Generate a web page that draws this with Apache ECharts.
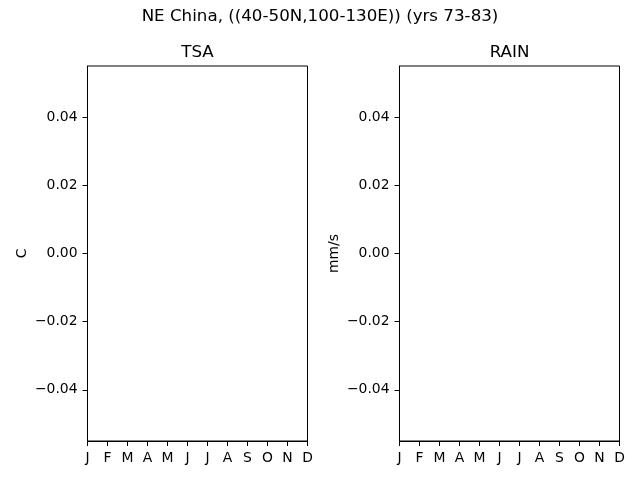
<!DOCTYPE html>
<html><head><meta charset="utf-8">
<script src="https://cdn.jsdelivr.net/npm/echarts@6/dist/echarts.min.js"></script>
<style>html,body{margin:0;padding:0;background:#fff}#c{width:640px;height:480px}</style>
</head><body><div id="c"></div>
<script>
const months = ['J','F','M','A','M','J','J','A','S','O','N','D'];
const monthPos = [0,1,2,3,4,5,6,7,8,9,10,11];
const yTicks = [-0.04,-0.02,0,0.02,0.04];
const tsaValues = [];
const rainValues = [];
const suptitle = 'NE China, ((40-50N,100-130E)) (yrs 73-83)';
const panelTitles = ['TSA','RAIN'];
const units = ['C','mm/s'];

const font = 'DejaVu Sans';
const fmtY = v => { const s = v.toFixed(2); return s.replace('-', '\u2212'); };
function xAx(i){
  return {type:'value', gridIndex:i, min:0, max:11,
    axisLine:{show:true,onZero:false,lineStyle:{color:'#000',width:1}},
    axisTick:{show:true,length:5,customValues:monthPos,lineStyle:{color:'#000'}},
    axisLabel:{customValues:monthPos,margin:10,color:'#000',fontFamily:font,fontSize:13.9,
      formatter:v=>months[Math.round(v)]},
    splitLine:{show:false}};
}
function yAx(i){
  return {type:'value', gridIndex:i, min:-0.055, max:0.055,
    name:units[i], nameLocation:'middle', nameRotate:90, nameGap:58,
    nameTextStyle:{color:'#000',fontFamily:font,fontSize:13.9},
    axisLine:{show:true,onZero:false,lineStyle:{color:'#000',width:1}},
    axisTick:{show:true,length:5,customValues:yTicks,lineStyle:{color:'#000'}},
    axisLabel:{customValues:yTicks,margin:10,color:'#000',fontFamily:font,fontSize:13.9,formatter:fmtY},
    splitLine:{show:false}};
}
const tStyle = {fontFamily:font,fontSize:16.7,fontWeight:'normal',color:'#000'};
const chart = echarts.init(document.getElementById('c'));
chart.setOption({
  animation:false,
  backgroundColor:'#fff',
  title:[
    {text:suptitle,left:320,top:8,padding:0,textAlign:'center',textStyle:tStyle},
    {text:panelTitles[0],left:197.5,top:44,padding:0,textAlign:'center',textStyle:tStyle},
    {text:panelTitles[1],left:509.5,top:44,padding:0,textAlign:'center',textStyle:tStyle}
  ],
  grid:[
    {left:87.5,top:66,width:220,height:375,show:true,borderColor:'#000',borderWidth:1,backgroundColor:'transparent'},
    {left:399.5,top:66,width:220,height:375,show:true,borderColor:'#000',borderWidth:1,backgroundColor:'transparent'}
  ],
  xAxis:[xAx(0),xAx(1)],
  yAxis:[yAx(0),yAx(1)],
  series:[
    {type:'line',xAxisIndex:0,yAxisIndex:0,data:tsaValues,showSymbol:false},
    {type:'line',xAxisIndex:1,yAxisIndex:1,data:rainValues,showSymbol:false}
  ]
});
</script></body></html>
